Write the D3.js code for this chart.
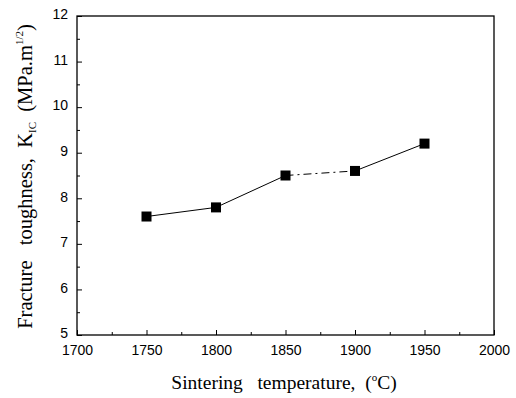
<!DOCTYPE html>
<html><head><meta charset="utf-8">
<script src="https://cdn.jsdelivr.net/npm/d3@7"></script>
<style>body{margin:0;background:#fff}svg{display:block}</style>
</head><body>
<svg id="c" width="516" height="398"></svg>
<script>
const temps = [1750, 1800, 1850, 1900, 1950];
const kic = [7.6, 7.8, 8.5, 8.6, 9.2];
const xTicks = [1700, 1750, 1800, 1850, 1900, 1950, 2000];
const yTicks = [5, 6, 7, 8, 9, 10, 11, 12];

const svg = d3.select("#c");
const L = 77, R = 494, T = 16, B = 335;
const x = d3.scaleLinear().domain([1700, 2000]).range([L, R]);
const y = d3.scaleLinear().domain([5, 12]).range([B, T]);

// frame
svg.append("rect").attr("x", L).attr("y", T).attr("width", R - L).attr("height", B - T)
  .attr("fill", "none").attr("stroke", "#000").attr("stroke-width", 1.3);

// x axis
const xAx = svg.append("g").attr("transform", `translate(0,${B})`)
  .call(d3.axisBottom(x).tickValues(xTicks).tickFormat(d3.format("d")).tickSizeInner(-5).tickSizeOuter(0).tickPadding(10));
xAx.select(".domain").remove();
xAx.selectAll("text").attr("font-family", "Liberation Sans, Arial, sans-serif").attr("font-size", 14).attr("fill", "#000");
svg.append("g").attr("transform", `translate(0,${B})`)
  .call(d3.axisBottom(x).tickValues(d3.range(1725, 2000, 50)).tickFormat("").tickSizeInner(-3).tickSizeOuter(0))
  .select(".domain").remove();

// y axis
const yAx = svg.append("g").attr("transform", `translate(${L},0)`)
  .call(d3.axisLeft(y).tickValues(yTicks).tickFormat(d3.format("d")).tickSizeInner(-5).tickSizeOuter(0).tickPadding(9));
yAx.select(".domain").remove();
yAx.selectAll("text").attr("font-family", "Liberation Sans, Arial, sans-serif").attr("font-size", 14).attr("fill", "#000").attr("dy", "0.2em");
svg.append("g").attr("transform", `translate(${L},0)`)
  .call(d3.axisLeft(y).tickValues(d3.range(5.5, 12, 1)).tickFormat("").tickSizeInner(-3).tickSizeOuter(0))
  .select(".domain").remove();

// line segments
const pts = temps.map((t, i) => [t, kic[i]]);
for (let i = 0; i < pts.length - 1; i++) {
  svg.append("line")
    .attr("x1", x(pts[i][0])).attr("y1", y(pts[i][1]))
    .attr("x2", x(pts[i + 1][0])).attr("y2", y(pts[i + 1][1]))
    .attr("stroke", "#000").attr("stroke-width", 1)
    .attr("stroke-dasharray", i === 2 ? "8,4,2,4" : null);
}
// markers
svg.selectAll("rect.m").data(pts).enter().append("rect").attr("class", "m")
  .attr("x", d => x(d[0]) - 5).attr("y", d => y(d[1]) - 5)
  .attr("width", 10).attr("height", 10).attr("fill", "#000");

// x title
const xt = svg.append("text").attr("x", 284).attr("y", 389).attr("text-anchor", "middle")
  .attr("font-family", "Liberation Serif, Times New Roman, serif").attr("font-size", 19.5).attr("fill", "#000");
xt.append("tspan").text("Sintering\u00a0\u00a0 temperature,\u00a0 (");
xt.append("tspan").text("o").attr("font-size", 11).attr("dy", -8);
xt.append("tspan").text("C)").attr("dy", 8);

// y title
const yt = svg.append("text").attr("transform", `translate(32,${(T + B) / 2 + 1}) rotate(-90)`).attr("text-anchor", "middle")
  .attr("font-family", "Liberation Serif, Times New Roman, serif").attr("font-size", 20.5).attr("fill", "#000");
yt.append("tspan").text("Fracture\u00a0\u00a0 toughness,\u00a0 K");
yt.append("tspan").text("IC").attr("font-size", 11).attr("dy", 4);
yt.append("tspan").text("\u00a0 (MPa.m").attr("dy", -4);
yt.append("tspan").text("1/2").attr("font-size", 11).attr("dy", -9);
yt.append("tspan").text(")").attr("dy", 9);
</script>
</body></html>
